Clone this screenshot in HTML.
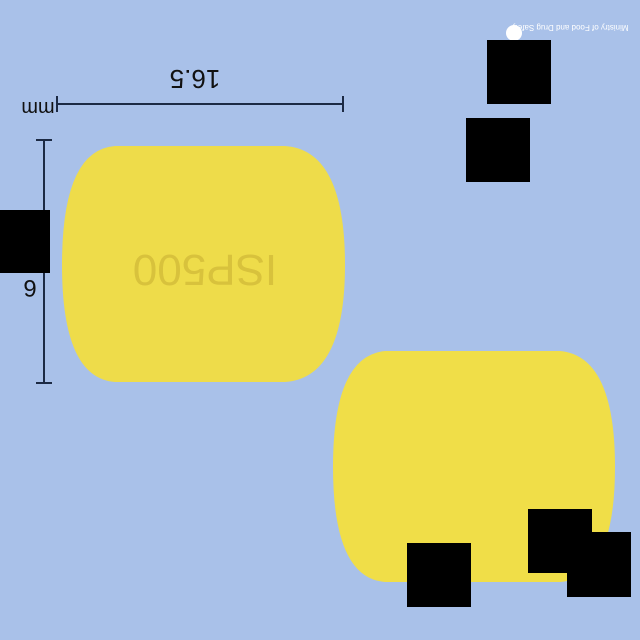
<!DOCTYPE html>
<html><head><meta charset="utf-8"><style>
body{margin:0;width:640px;height:640px;overflow:hidden;background:#a9c1e9}
svg{display:block}
text{font-family:"Liberation Sans","Noto Sans CJK KR",sans-serif}
</style></head><body>
<svg width="640" height="640">
<rect width="640" height="640" fill="#a9c1e9"/>
<g>
<path d="M115,146 L285,146 Q345,150 345,265 Q345,378 285,382 L115,382 Q62,378 62,265 Q62,150 115,146 Z" fill="#eedc4a"/>
<text x="205" y="285" font-size="44" fill="#d8c23c" text-anchor="middle" transform="rotate(180 205 270)">ISP500</text>
</g>
<path d="M385,351 L560,351 Q615,356 615,467 Q615,578 560,582 L385,582 Q333,578 333,467 Q333,356 385,351 Z" fill="#f0de48"/>
<g stroke="#1c2a44" stroke-width="2">
<line x1="57" y1="104" x2="343" y2="104"/><line x1="57" y1="96" x2="57" y2="112"/><line x1="343" y1="96" x2="343" y2="112"/>
<line x1="44" y1="140" x2="44" y2="383"/><line x1="36" y1="140" x2="52" y2="140"/><line x1="36" y1="383" x2="52" y2="383"/>
</g>
<text x="195" y="90" font-size="26" fill="#111" text-anchor="middle" transform="rotate(180 195 80)">16.5</text>
<text x="38" y="118" font-size="20" fill="#111" text-anchor="middle" transform="rotate(180 38 110)">mm</text>
<text x="30" y="298" font-size="24" fill="#111" text-anchor="middle" transform="rotate(180 30 289)">6</text>
<circle cx="514" cy="33" r="8" fill="#fff"/>
<text x="570" y="31" font-size="8" fill="#fff" text-anchor="middle" transform="rotate(180 570 28)">Ministry of Food and Drug Safety</text>
<g fill="#000">
<rect x="487" y="40" width="64" height="64"/><rect x="466" y="118" width="64" height="64"/>
<rect x="0" y="210" width="50" height="63"/><rect x="528" y="509" width="64" height="64"/>
<rect x="567" y="532" width="64" height="65"/><rect x="407" y="543" width="64" height="64"/>
</g>
</svg>
</body></html>
